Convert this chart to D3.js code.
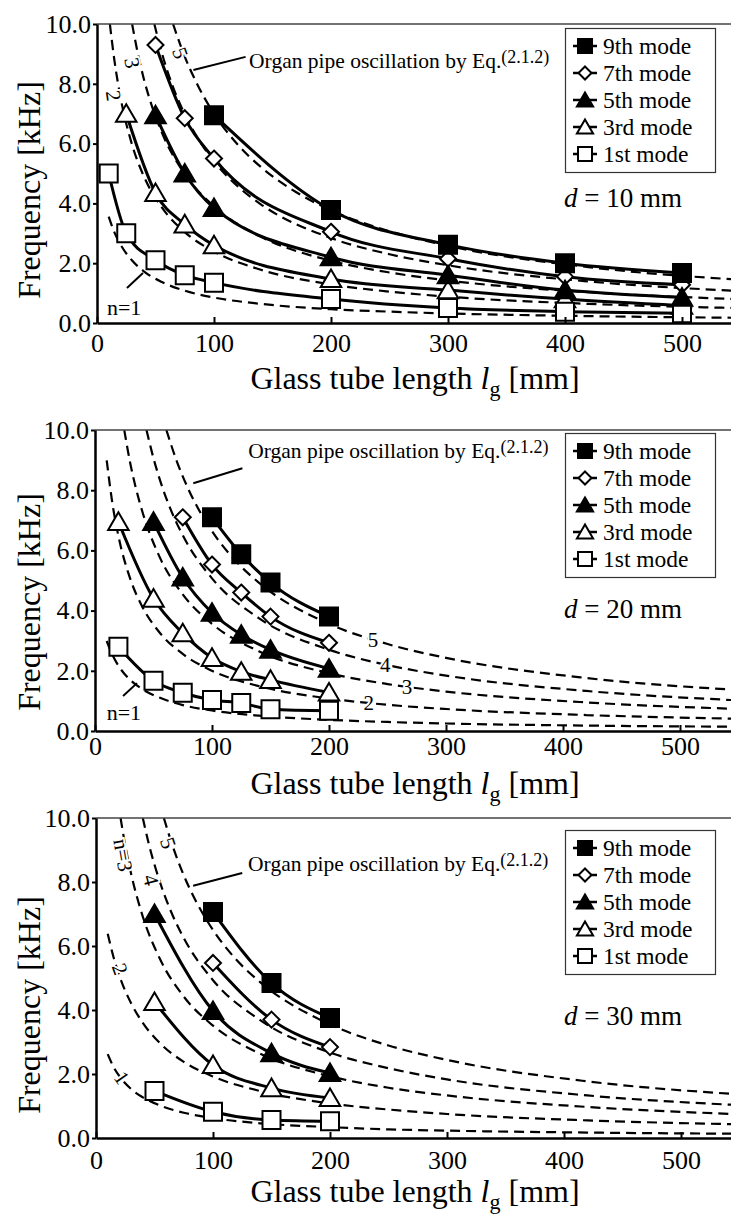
<!DOCTYPE html>
<html>
<head>
<meta charset="utf-8">
<script src="https://cdn.jsdelivr.net/npm/d3@7"></script>
<style>
  html, body { margin: 0; padding: 0; background: #fff; }
  svg { display: block; font-family: "Liberation Serif", "Times New Roman", serif; }
  svg text { font-family: "Liberation Serif", "Times New Roman", serif !important; }
</style>
</head>
<body>
<svg id="fig" width="731" height="1215"></svg>
<script>
// ---------- axis ticks and labels ----------
const xTickValues = [0, 100, 200, 300, 400, 500];
const yTickValues = [0, 2, 4, 6, 8, 10];
const yTickLabels = ["0.0", "2.0", "4.0", "6.0", "8.0", "10.0"];
const modeLabels = ["9th mode", "7th mode", "5th mode", "3rd mode", "1st mode"];
const diameters = ["10", "20", "30"];

// ---------- measured resonance frequencies: [tube length mm, frequency kHz] ----------
// d = 10 mm
const d10Mode9 = [[100, 6.95], [200, 3.78], [300, 2.62], [400, 2.0], [500, 1.67]];
const d10Mode7 = [[50, 9.3], [75, 6.85], [100, 5.5], [200, 3.05], [300, 2.15], [400, 1.55], [500, 1.28]];
const d10Mode5 = [[50, 6.95], [75, 5.0], [100, 3.85], [200, 2.2], [300, 1.6], [400, 1.1], [500, 0.85]];
const d10Mode3 = [[25, 7.0], [50, 4.35], [75, 3.3], [100, 2.6], [200, 1.47], [300, 1.1], [400, 0.8], [500, 0.58]];
const d10Mode1 = [[10, 5.0], [25, 3.0], [50, 2.1], [75, 1.6], [100, 1.35], [200, 0.8], [300, 0.5], [400, 0.38], [500, 0.33]];
// d = 20 mm
const d20Mode9 = [[100, 7.1], [125, 5.87], [150, 4.93], [200, 3.8]];
const d20Mode7 = [[75, 7.1], [100, 5.53], [125, 4.6], [150, 3.8], [200, 2.93]];
const d20Mode5 = [[50, 6.95], [75, 5.1], [100, 3.93], [125, 3.2], [150, 2.7], [200, 2.07]];
const d20Mode3 = [[20, 6.95], [50, 4.4], [75, 3.25], [100, 2.43], [125, 1.97], [150, 1.7], [200, 1.28]];
const d20Mode1 = [[20, 2.8], [50, 1.67], [75, 1.27], [100, 1.03], [125, 0.93], [150, 0.72], [200, 0.67]];
// d = 30 mm
const d30Mode9 = [[100, 7.06], [150, 4.84], [200, 3.75]];
const d30Mode7 = [[100, 5.47], [150, 3.7], [200, 2.84]];
const d30Mode5 = [[50, 7.0], [100, 3.97], [150, 2.65], [200, 2.03]];
const d30Mode3 = [[50, 4.25], [100, 2.28], [150, 1.56], [200, 1.25]];
const d30Mode1 = [[50, 1.47], [100, 0.82], [150, 0.56], [200, 0.52]];

// ---------- organ pipe oscillation curves, Eq.(2.1.2), n = 1..5 ----------
// d = 10 mm
const d10Pipe1 = [[10, 3.56], [15, 3.02], [20, 2.63], [30, 2.09], [40, 1.73], [55, 1.38], [75, 1.08], [100, 0.85], [140, 0.64], [200, 0.46], [250, 0.38], [300, 0.32], [420, 0.23], [560, 0.17]];
const d10Pipe2 = [[11, 10.0], [15, 8.75], [20, 7.57], [30, 5.96], [40, 4.91], [55, 3.89], [75, 3.04], [100, 2.39], [140, 1.78], [200, 1.29], [250, 1.05], [300, 0.88], [420, 0.64], [560, 0.49]];
const d10Pipe3 = [[30, 10.0], [35, 9.0], [40, 8.17], [45, 7.49], [55, 6.41], [75, 4.98], [100, 3.9], [140, 2.89], [200, 2.08], [250, 1.69], [300, 1.42], [420, 1.03], [560, 0.78]];
const d10Pipe4 = [[49, 10.0], [55, 9.09], [65, 7.89], [75, 6.98], [85, 6.25], [100, 5.41], [120, 4.58], [140, 3.97], [200, 2.84], [250, 2.3], [300, 1.93], [420, 1.39], [560, 1.05]];
const d10Pipe5 = [[65, 10.0], [75, 8.91], [85, 8.04], [100, 7.0], [120, 5.98], [140, 5.22], [170, 4.38], [200, 3.77], [250, 3.07], [300, 2.58], [420, 1.87], [560, 1.42]];
// d = 20 mm
const d20Pipe1 = [[10, 2.99], [15, 2.52], [20, 2.17], [30, 1.7], [40, 1.4], [55, 1.11], [75, 0.86], [100, 0.68], [140, 0.51], [200, 0.37], [250, 0.3], [300, 0.25], [420, 0.18], [560, 0.14]];
const d20Pipe2 = [[10, 8.99], [15, 7.53], [20, 6.48], [30, 5.07], [40, 4.16], [55, 3.28], [75, 2.56], [100, 2.0], [140, 1.49], [200, 1.08], [250, 0.87], [300, 0.73], [420, 0.53], [560, 0.4]];
const d20Pipe3 = [[25, 10.0], [30, 8.92], [35, 8.06], [40, 7.35], [55, 5.8], [75, 4.54], [100, 3.56], [140, 2.65], [200, 1.92], [250, 1.56], [300, 1.31], [420, 0.95], [560, 0.72]];
const d20Pipe4 = [[44, 10.0], [50, 9.06], [55, 8.4], [65, 7.33], [75, 6.5], [100, 5.07], [140, 3.75], [200, 2.7], [250, 2.19], [300, 1.84], [420, 1.33], [560, 1.0]];
const d20Pipe5 = [[61, 10.0], [70, 8.95], [80, 8.02], [100, 6.64], [120, 5.66], [140, 4.93], [200, 3.56], [250, 2.89], [300, 2.43], [420, 1.76], [560, 1.34]];
// d = 30 mm
const d30Pipe1 = [[10, 2.62], [15, 2.22], [20, 1.93], [30, 1.53], [40, 1.27], [55, 1.01], [75, 0.79], [100, 0.62], [140, 0.46], [200, 0.34], [250, 0.27], [300, 0.23], [420, 0.17], [560, 0.13]];
const d30Pipe2 = [[10, 6.38], [15, 5.65], [20, 5.07], [30, 4.21], [40, 3.6], [55, 2.95], [75, 2.38], [100, 1.92], [140, 1.47], [200, 1.08], [250, 0.89], [300, 0.75], [420, 0.55], [560, 0.42]];
const d30Pipe3 = [[21, 10.0], [25, 9.14], [30, 8.26], [40, 6.92], [55, 5.57], [75, 4.42], [100, 3.51], [140, 2.64], [200, 1.93], [250, 1.57], [300, 1.33], [420, 0.97], [560, 0.73]];
const d30Pipe4 = [[40, 10.0], [45, 9.21], [55, 7.96], [65, 7.0], [75, 6.25], [100, 4.93], [140, 3.69], [200, 2.67], [250, 2.18], [300, 1.83], [420, 1.33], [560, 1.01]];
const d30Pipe5 = [[58, 10.0], [65, 9.18], [75, 8.21], [85, 7.43], [100, 6.5], [120, 5.57], [140, 4.88], [200, 3.55], [250, 2.89], [300, 2.44], [420, 1.77], [560, 1.34]];

// ---------- marker styles per mode (9th, 7th, 5th, 3rd, 1st) ----------
const modeShapes = ["square", "diamond", "triangle", "triangle", "square"];
const modeFills = ["#000", "#fff", "#000", "#fff", "#fff"];
const plotSizes = { square: 18, diamond: 16, triangle: 19 };
const legendSizes = { square: 14, diamond: 13, triangle: 15 };
const drawOrder = [3, 1, 4, 2, 0];

function markerPath(shape, s) {
  const h = s / 2;
  if (shape === "square") return `M${-h},${-h}H${h}V${h}H${-h}Z`;
  if (shape === "diamond") return `M0,${-h}L${h},0L0,${h}L${-h},0Z`;
  return `M0,${-h}L${h * 1.08},${h * 0.85}L${-h * 1.08},${h * 0.85}Z`;
}

const SERIF = '"Liberation Serif", "Times New Roman", serif';

// ---------- panels ----------
const panels = [
  {
    d: diameters[0],
    series: [d10Mode9, d10Mode7, d10Mode5, d10Mode3, d10Mode1],
    pipes: [d10Pipe1, d10Pipe2, d10Pipe3, d10Pipe4, d10Pipe5],
    x0: 97, top: 24, bottom: 323, tickBase: 352, titleBase: 389, yTitleMid: 190,
    legendTop: 28, dBase: 207,
    leader: [[82.4, 8.46], [127, 8.9]], organAt: [130, 8.53],
    curveLabels: [
      { t: "5", at: [71, 9.03], rot: 70 },
      { t: "3", at: [30, 8.7], rot: 80 },
      { t: "2", at: [14, 7.6], rot: 82 }
    ],
    nLabel: { at: [8.5, 0.27], leader: [[25.6, 1.17], [39.3, 1.67]] }
  },
  {
    d: diameters[1],
    series: [d20Mode9, d20Mode7, d20Mode5, d20Mode3, d20Mode1],
    pipes: [d20Pipe1, d20Pipe2, d20Pipe3, d20Pipe4, d20Pipe5],
    x0: 95, top: 430, bottom: 731, tickBase: 755, titleBase: 794, yTitleMid: 602,
    legendTop: 433, dBase: 618,
    leader: [[84, 8.23], [126, 8.73]], organAt: [131, 9.07],
    curveLabels: [
      { t: "5", at: [237.6, 3.02], rot: 0 },
      { t: "4", at: [248, 2.19], rot: 0 },
      { t: "3", at: [266.7, 1.46], rot: 0 },
      { t: "2", at: [234, 0.93], rot: 0 }
    ],
    nLabel: { at: [10, 0.37], leader: [[24, 1.16], [35.9, 1.59]] }
  },
  {
    d: diameters[2],
    series: [d30Mode9, d30Mode7, d30Mode5, d30Mode3, d30Mode1],
    pipes: [d30Pipe1, d30Pipe2, d30Pipe3, d30Pipe4, d30Pipe5],
    x0: 96, top: 818, bottom: 1138, tickBase: 1169, titleBase: 1202, yTitleMid: 1005,
    legendTop: 830, dBase: 1025,
    leader: [[83, 7.88], [125, 8.28]], organAt: [130, 8.34],
    curveLabels: [
      { t: "5", at: [61.5, 9.22], rot: 72 },
      { t: "4", at: [47, 8.06], rot: 75 },
      { t: "n=3", at: [23, 8.84], rot: 80 },
      { t: "2", at: [20.5, 5.28], rot: 70 },
      { t: "1", at: [22, 1.88], rot: 55 }
    ],
    nLabel: null
  }
];

const svg = d3.select("#fig");
const W = 731;

panels.forEach((p, pi) => {
  const x = d3.scaleLinear().domain([0, 560]).range([p.x0, p.x0 + 1.17 * 560]);
  const y = d3.scaleLinear().domain([0, 10]).range([p.bottom, p.top]);
  const g = svg.append("g");

  const clipId = "clip" + pi;
  svg.append("clipPath").attr("id", clipId)
    .append("rect").attr("x", p.x0).attr("y", p.top)
    .attr("width", W - p.x0).attr("height", p.bottom - p.top);

  // organ pipe curves (dashed)
  const smooth = d3.line().x(d => x(d[0])).y(d => y(d[1])).curve(d3.curveMonotoneX);
  g.append("g").attr("clip-path", `url(#${clipId})`)
    .selectAll("path").data(p.pipes).join("path")
    .attr("d", smooth)
    .attr("fill", "none").attr("stroke", "#000")
    .attr("stroke-width", 2.2).attr("stroke-dasharray", "10,6");

  // curve labels
  p.curveLabels.forEach(c => {
    g.append("text")
      .attr("transform", `translate(${x(c.at[0])},${y(c.at[1])}) rotate(${c.rot})`)
      .attr("text-anchor", "middle").attr("dominant-baseline", "central")
      .attr("font-size", 21)
      .attr("stroke", "#fff").attr("stroke-width", 4).attr("paint-order", "stroke")
      .attr("fill", "#000")
      .text(c.t);
  });

  if (p.nLabel) {
    g.append("text").attr("x", x(p.nLabel.at[0])).attr("y", y(p.nLabel.at[1]))
      .attr("font-size", 22).text("n=1");
    g.append("line")
      .attr("x1", x(p.nLabel.leader[0][0])).attr("y1", y(p.nLabel.leader[0][1]))
      .attr("x2", x(p.nLabel.leader[1][0])).attr("y2", y(p.nLabel.leader[1][1]))
      .attr("stroke", "#000").attr("stroke-width", 2);
  }

  // organ pipe annotation
  g.append("line")
    .attr("x1", x(p.leader[0][0])).attr("y1", y(p.leader[0][1]))
    .attr("x2", x(p.leader[1][0])).attr("y2", y(p.leader[1][1]))
    .attr("stroke", "#000").attr("stroke-width", 2);
  const organ = g.append("text").attr("x", x(p.organAt[0])).attr("y", y(p.organAt[1]))
    .attr("font-size", 21.5);
  organ.append("tspan").text("Organ pipe oscillation by Eq.");
  organ.append("tspan").attr("font-size", 18).attr("dy", -5).text("(2.1.2)");

  // measured series: lines then markers
  const seriesLine = d3.line().x(d => x(d[0])).y(d => y(d[1])).curve(d3.curveMonotoneX);
  g.append("g").selectAll("path").data(p.series).join("path")
    .attr("d", seriesLine)
    .attr("fill", "none").attr("stroke", "#000").attr("stroke-width", 3);

  drawOrder.forEach(mi => {
    const shape = modeShapes[mi];
    g.append("g").selectAll("path").data(p.series[mi]).join("path")
      .attr("transform", d => `translate(${x(d[0])},${y(d[1])})`)
      .attr("d", markerPath(shape, plotSizes[shape]))
      .attr("fill", modeFills[mi]).attr("stroke", "#000").attr("stroke-width", 2)
      .attr("stroke-linejoin", "miter");
  });

  // top frame line
  g.append("line").attr("x1", p.x0).attr("x2", W).attr("y1", p.top).attr("y2", p.top)
    .attr("stroke", "#444").attr("stroke-width", 1.5);

  // axes
  const xAxis = d3.axisBottom(x).tickValues(xTickValues).tickFormat(d3.format("d"))
    .tickSizeInner(-6).tickSizeOuter(0);
  const gx = g.append("g").attr("transform", `translate(0,${p.bottom})`).call(xAxis)
    .attr("font-family", SERIF).attr("font-size", 26);
  gx.select(".domain").attr("stroke-width", 2.5);
  gx.selectAll(".tick line").attr("stroke-width", 2);
  gx.selectAll(".tick text")
    .attr("dy", null).attr("y", p.tickBase - p.bottom).attr("fill", "#000")
    .style("font-family", SERIF);

  const yAxis = d3.axisLeft(y).tickValues(yTickValues)
    .tickFormat((d, i) => yTickLabels[i]).tickSizeInner(4).tickSizeOuter(0).tickPadding(2);
  const gy = g.append("g").attr("transform", `translate(${p.x0},0)`).call(yAxis)
    .attr("font-family", SERIF).attr("font-size", 26);
  gy.select(".domain").attr("stroke-width", 2.5);
  gy.selectAll(".tick line").attr("stroke-width", 2);
  gy.selectAll(".tick text").attr("fill", "#000").style("font-family", SERIF);
  g.selectAll(".domain").attr("stroke", "#000");

  // axis titles
  g.append("text")
    .attr("transform", `translate(40,${p.yTitleMid}) rotate(-90)`)
    .attr("text-anchor", "middle").attr("font-size", 32)
    .text("Frequency [kHz]");
  const xt = g.append("text").attr("x", 415).attr("y", p.titleBase)
    .attr("text-anchor", "middle").attr("font-size", 32);
  xt.append("tspan").text("Glass tube length ");
  xt.append("tspan").attr("font-style", "italic").text("l");
  xt.append("tspan").attr("font-size", 22).attr("dy", 7).text("g");
  xt.append("tspan").attr("dy", -7).text(" [mm]");

  // legend
  const lg = g.append("g");
  lg.append("rect").attr("x", 565.5).attr("y", p.legendTop + 0.5)
    .attr("width", 150).attr("height", 144)
    .attr("fill", "#fff").attr("stroke", "#333").attr("stroke-width", 1.2);
  modeLabels.forEach((lab, i) => {
    const base = p.legendTop + 26 + i * 27;
    const cy = base - 8;
    lg.append("line").attr("x1", 573).attr("x2", 597).attr("y1", cy).attr("y2", cy)
      .attr("stroke", "#000").attr("stroke-width", 2.5);
    const shape = modeShapes[i];
    lg.append("path").attr("transform", `translate(585,${cy})`)
      .attr("d", markerPath(shape, legendSizes[shape]))
      .attr("fill", modeFills[i]).attr("stroke", "#000").attr("stroke-width", 2);
    lg.append("text").attr("x", 603).attr("y", base).attr("font-size", 23.5).text(lab);
  });

  // diameter label
  const dl = g.append("text").attr("x", 564).attr("y", p.dBase).attr("font-size", 27);
  dl.append("tspan").attr("font-style", "italic").text("d");
  dl.append("tspan").text(" = " + p.d + " mm");
});
</script>
</body>
</html>
